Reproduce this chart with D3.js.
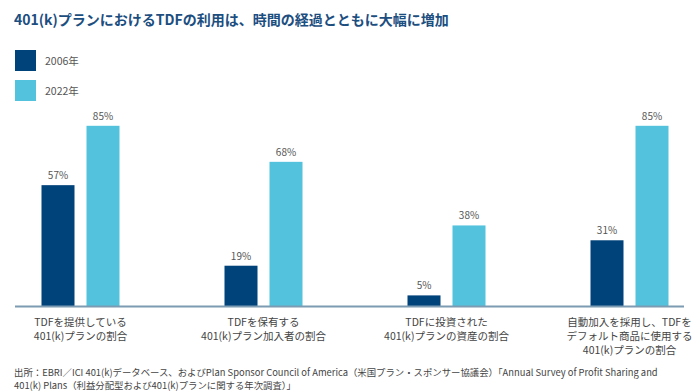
<!DOCTYPE html>
<html lang="ja">
<head>
  <meta charset="UTF-8">
  <title>401(k)プランにおけるTDFの利用</title>
  <script src="https://d3js.org/d3.v7.min.js"></script>
  <style>
    body { margin: 0; background: #fff; }
    svg { display: block; font-family: "Noto Sans CJK JP", "Noto Sans", sans-serif; }
  </style>
</head>
<body>
  <div id="chart"></div>
  <script>
    // data
    const categories = [
      ["TDFを提供している", "401(k)プランの割合"],
      ["TDFを保有する", "401(k)プラン加入者の割合"],
      ["TDFに投資された", "401(k)プランの資産の割合"],
      ["自動加入を採用し、TDFを", "デフォルト商品に使用する", "401(k)プランの割合"]
    ];
    const series = ["2006年", "2022年"];
    const values2006 = [57, 19, 5, 31];
    const values2022 = [85, 68, 38, 85];
    const colors = ["#00427a", "#52c2dd"];

    const width = 700, height = 392;
    const svg = d3.select("#chart").append("svg")
      .attr("width", width)
      .attr("height", height);

    // title
    svg.append("text")
      .attr("x", 14)
      .attr("y", 25)
      .attr("fill", "#1c4e80")
      .attr("font-size", 14)
      .attr("font-weight", "bold")
      .text("401(k)プランにおけるTDFの利用は、時間の経過とともに大幅に増加");

    // legend
    series.forEach((s, i) => {
      const g = svg.append("g").attr("transform", `translate(15,${50 + i * 30})`);
      g.append("rect").attr("width", 21).attr("height", 21).attr("fill", colors[i]);
      g.append("text")
        .attr("x", 30).attr("y", 14.5)
        .attr("font-size", 10.5)
        .attr("fill", "#555")
        .text(s);
    });

    const keys = categories.map((c, i) => i);
    const x0 = d3.scalePoint().domain(keys).range([80.5, 629.5]);
    const x1 = d3.scaleBand().domain(series).range([-39, 39]).paddingInner(12 / 45);
    const y = d3.scaleLinear().domain([0, 100]).range([306, 94]);

    const rows = keys.map(i => ({ i, vals: [values2006[i], values2022[i]] }));

    const groups = svg.selectAll("g.grp")
      .data(rows)
      .join("g")
      .attr("class", "grp")
      .attr("transform", d => `translate(${x0(d.i)},0)`);

    groups.selectAll("rect")
      .data(d => d.vals.map((v, j) => ({ s: series[j], v, j })))
      .join("rect")
      .attr("x", d => x1(d.s))
      .attr("width", x1.bandwidth())
      .attr("y", d => y(d.v))
      .attr("height", d => y(0) - y(d.v))
      .attr("fill", d => colors[d.j]);

    groups.selectAll("text.val")
      .data(d => d.vals.map((v, j) => ({ s: series[j], v, j })))
      .join("text")
      .attr("class", "val")
      .attr("x", d => x1(d.s) + x1.bandwidth() / 2)
      .attr("y", d => y(d.v) - 6)
      .attr("text-anchor", "middle")
      .attr("font-size", 10)
      .attr("fill", "#555")
      .text(d => d.v + "%");

    // baseline
    svg.append("line")
      .attr("x1", 15).attr("x2", 684)
      .attr("y1", y(0) + 0.5).attr("y2", y(0) + 0.5)
      .attr("stroke", "#7d9bb2")
      .attr("stroke-width", 2);

    // category labels
    groups.each(function(d) {
      const t = d3.select(this).append("text")
        .attr("text-anchor", "middle")
        .attr("font-size", 10.5)
        .attr("fill", "#444");
      categories[d.i].forEach((line, k) => {
        t.append("tspan").attr("x", 0).attr("y", 326 + k * 14).text(line);
      });
    });

    // source note
    const note = svg.append("text")
      .attr("font-size", 9.4)
      .attr("fill", "#444");
    note.append("tspan").attr("x", 14).attr("y", 376)
      .text("出所：EBRI／ICI 401(k)データベース、およびPlan Sponsor Council of America（米国プラン・スポンサー協議会）「Annual Survey of Profit Sharing and");
    note.append("tspan").attr("x", 14).attr("y", 389)
      .text("401(k) Plans（利益分配型および401(k)プランに関する年次調査）」");
  </script>
</body>
</html>
